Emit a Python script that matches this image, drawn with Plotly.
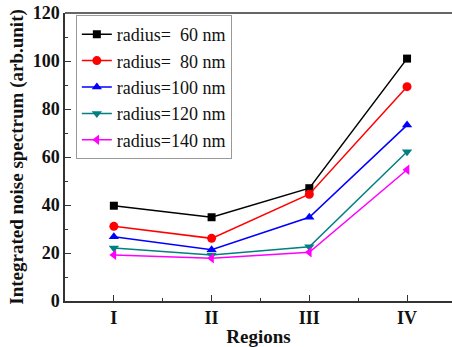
import plotly.graph_objects as go

# Regions on the x axis and integrated noise values per particle radius
regions = ["I", "II", "III", "IV"]
series_names = ["radius=  60 nm", "radius=  80 nm", "radius=100 nm", "radius=120 nm", "radius=140 nm"]
noise_60 = [39.7, 34.9, 47.0, 101.0]
noise_80 = [31.1, 26.1, 44.5, 89.3]
noise_100 = [26.8, 21.4, 34.9, 73.3]
noise_120 = [22.1, 19.2, 22.6, 62.2]
noise_140 = [19.2, 17.8, 20.3, 54.7]

series_values = [noise_60, noise_80, noise_100, noise_120, noise_140]
colors = ["#000000", "#ff0000", "#0000ff", "#008080", "#ff00ff"]
symbols = ["square", "circle", "triangle-up", "triangle-down", "triangle-left"]
sizes = [8, 9, 9, 9, 9]

x_pos = list(range(1, len(regions) + 1))
FONT = "Liberation Serif"

fig = go.Figure()
for name, vals, c, s, sz in zip(series_names, series_values, colors, symbols, sizes):
    fig.add_trace(go.Scatter(
        x=x_pos, y=vals, name=name, mode="lines+markers",
        line=dict(color=c, width=1.5),
        marker=dict(symbol=s, size=sz, color=c),
        legend="legend2",
    ))

axis_common = dict(
    showline=True, linecolor="#333333", linewidth=1.5,
    ticks="inside", tickcolor="#333333", tickwidth=1.2, ticklen=6,
    showgrid=False, zeroline=False,
    tickfont=dict(family=FONT, size=18, color="#111111", weight="bold"),
)

fig.update_xaxes(
    **axis_common,
    range=[0.5, 4.46],
    tickvals=x_pos, ticktext=regions,
    minor=dict(ticks="inside", ticklen=3, tickcolor="#333333", tick0=0.5, dtick=0.5),
    title=dict(text="Regions", font=dict(family=FONT, size=19, color="#111111", weight="bold"),
               standoff=4),
)
fig.update_yaxes(
    **axis_common,
    range=[0, 120], dtick=20,
    minor=dict(ticks="inside", ticklen=3, tickcolor="#333333", dtick=10),
    title=dict(text="Integrated noise spectrum (arb.unit)",
               font=dict(family=FONT, size=19, color="#111111", weight="bold"), standoff=4),
)

# top frame line of the plot box
fig.add_shape(type="line", xref="paper", yref="paper", x0=0, x1=1, y0=1, y1=1,
              line=dict(color="#333333", width=1.5))

fig.update_layout(
    width=452, height=347,
    margin=dict(l=65, r=0, t=13, b=46),
    plot_bgcolor="white", paper_bgcolor="white",
    font=dict(color="#111111"),
    legend2=dict(
        x=0.028, y=0.993, xanchor="left", yanchor="top",
        bgcolor="white", bordercolor="#999999", borderwidth=1,
        font=dict(family="Liberation Serif", size=18, weight="normal"),
    ),
)

fig.write_html("out.html")
